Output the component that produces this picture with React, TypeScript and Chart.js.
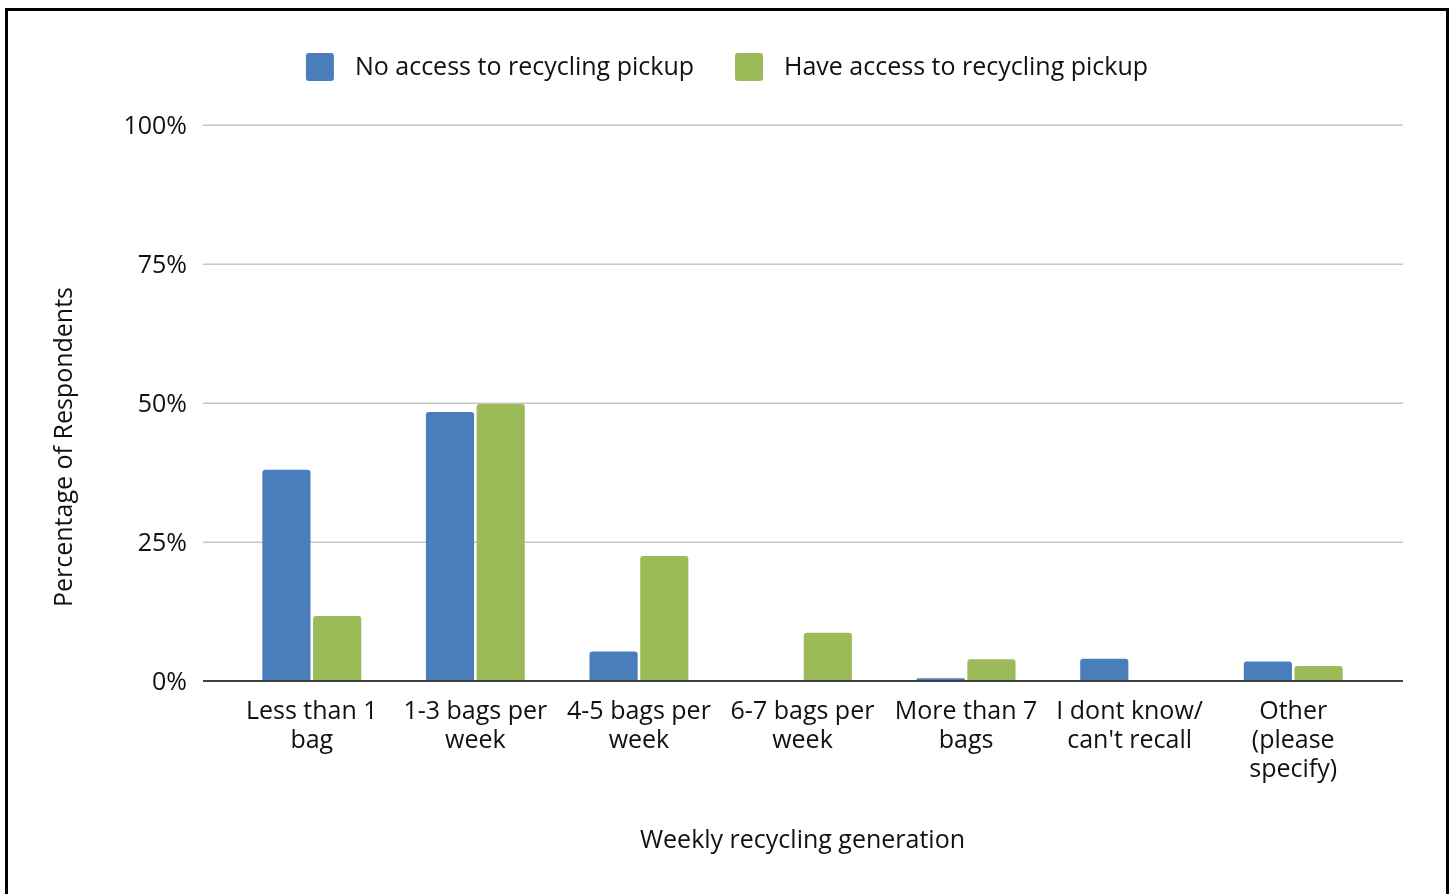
import { useEffect, useRef } from "react";
import { Chart, registerables } from "chart.js";

Chart.register(...registerables);

// Weekly recycling generation by access to recycling pickup (% of respondents)
const categories: string[][] = [
  ["Less than 1", "bag"],
  ["1-3 bags per", "week"],
  ["4-5 bags per", "week"],
  ["6-7 bags per", "week"],
  ["More than 7", "bags"],
  ["I dont know/", "can't recall"],
  ["Other", "(please", "specify)"],
];
const noAccess = [38, 48.4, 5.3, 0, 0.5, 4.0, 3.5];
const haveAccess = [11.7, 49.8, 22.5, 8.7, 3.9, 0, 2.7];
const yTickValues = [0, 25, 50, 75, 100];

const seriesNames = ["No access to recycling pickup", "Have access to recycling pickup"];
const seriesColors = ["#4a7ebb", "#9bbb59"];

const FONT = "'Open Sans', sans-serif";
const FONT_SIZE = 25;
const TEXT_COLOR = "#111111";

// Horizontal gridlines that run a little past the category band on both sides
const gridPlugin = {
  id: "extendedGrid",
  beforeDatasetsDraw(chart: any) {
    const { ctx, chartArea, scales } = chart;
    const y = scales.y;
    ctx.save();
    ctx.lineWidth = 1.6;
    ctx.strokeStyle = "#c6c6c6";
    yTickValues.forEach((v) => {
      if (v === 0) return;
      const py = Math.round(y.getPixelForValue(v)) + 0.25;
      ctx.beginPath();
      ctx.moveTo(chartArea.left - 27, py);
      ctx.lineTo(chartArea.right + 28, py);
      ctx.stroke();
    });
    ctx.restore();
  },
  afterDatasetsDraw(chart: any) {
    const { ctx, chartArea, scales } = chart;
    const py = scales.y.getPixelForValue(0);
    ctx.save();
    ctx.lineWidth = 2;
    ctx.strokeStyle = "#404040";
    ctx.beginPath();
    ctx.moveTo(chartArea.left - 27, py);
    ctx.lineTo(chartArea.right + 28, py);
    ctx.stroke();
    ctx.restore();
  },
};

// Legend row and axis titles
const annotationPlugin = {
  id: "legendAndTitles",
  afterDraw(chart: any) {
    const { ctx, chartArea } = chart;
    ctx.save();
    ctx.font = `${FONT_SIZE}px ${FONT}`;
    ctx.fillStyle = TEXT_COLOR;
    ctx.textBaseline = "middle";

    const box = 28;
    const gapText = 21;
    const gapItem = 41;
    const widths = chart.data.datasets.map((d: any) => ctx.measureText(d.label).width);
    const total =
      widths.reduce((a: number, w: number) => a + box + gapText + w, 0) +
      gapItem * (widths.length - 1);
    let x = chart.width / 2 - total / 2;
    const boxTop = 53;
    chart.data.datasets.forEach((d: any, i: number) => {
      ctx.fillStyle = d.backgroundColor;
      ctx.beginPath();
      (ctx as any).roundRect(x, boxTop, box, box, 3);
      ctx.fill();
      x += box + gapText;
      ctx.fillStyle = TEXT_COLOR;
      ctx.textAlign = "left";
      ctx.fillText(d.label, x, boxTop + box / 2 + 1);
      x += widths[i] + gapItem;
    });

    // x-axis title
    ctx.textAlign = "center";
    ctx.fillText("Weekly recycling generation", (chartArea.left + chartArea.right) / 2, 841);

    // y-axis title
    ctx.translate(65, 447);
    ctx.rotate(-Math.PI / 2);
    ctx.fillText("Percentage of Respondents", 0, 0);
    ctx.restore();
  },
};

export default function App() {
  const canvasRef = useRef<HTMLCanvasElement | null>(null);

  useEffect(() => {
    document.body.style.margin = "0";
    const canvas = canvasRef.current;
    if (!canvas) return;
    const chart = new Chart(canvas, {
      type: "bar",
      data: {
        labels: categories,
        datasets: [
          {
            label: seriesNames[0],
            data: noAccess,
            backgroundColor: seriesColors[0],
            borderRadius: { topLeft: 3, topRight: 3, bottomLeft: 0, bottomRight: 0 },
            borderSkipped: false,
            categoryPercentage: 0.62,
            barPercentage: 0.95,
          },
          {
            label: seriesNames[1],
            data: haveAccess,
            backgroundColor: seriesColors[1],
            borderRadius: { topLeft: 3, topRight: 3, bottomLeft: 0, bottomRight: 0 },
            borderSkipped: false,
            categoryPercentage: 0.62,
            barPercentage: 0.95,
          },
        ],
      },
      options: {
        animation: false,
        responsive: false,
        maintainAspectRatio: false,
        layout: { padding: { top: 125, left: 0, right: 0, bottom: 0 } },
        plugins: {
          legend: { display: false },
          tooltip: { enabled: false },
        },
        scales: {
          x: {
            grid: { display: false },
            border: { display: false },
            ticks: {
              font: { family: FONT, size: FONT_SIZE, lineHeight: 29 / FONT_SIZE },
              color: TEXT_COLOR,
              padding: 8,
              maxRotation: 0,
              autoSkip: false,
            },
            afterFit(scale: any) {
              scale.height = 213;
            },
          },
          y: {
            min: 0,
            max: 100,
            grid: { display: false },
            border: { display: false },
            afterBuildTicks(scale: any) {
              scale.ticks = yTickValues.map((v) => ({ value: v }));
            },
            ticks: {
              font: { family: FONT, size: FONT_SIZE },
              color: TEXT_COLOR,
              padding: 35,
              labelOffset: 2,
              callback: (v: any) => `${v}%`,
            },
            afterFit(scale: any) {
              scale.width = 230;
            },
          },
          yRight: {
            position: "right",
            display: true,
            grid: { display: false },
            border: { display: false },
            ticks: { display: false },
            afterFit(scale: any) {
              scale.width = 79;
            },
          },
        },
      },
      plugins: [gridPlugin, annotationPlugin],
    });
    return () => chart.destroy();
  }, []);

  return (
    <div style={{ position: "relative", width: 1454, height: 894, overflow: "hidden", background: "#fff" }}>
      <canvas ref={canvasRef} width={1454} height={894} style={{ display: "block" }} />
      <div
        style={{
          position: "absolute",
          left: 5,
          top: 8,
          width: 1438,
          height: 900,
          border: "3px solid #000",
          pointerEvents: "none",
        }}
      />
    </div>
  );
}
